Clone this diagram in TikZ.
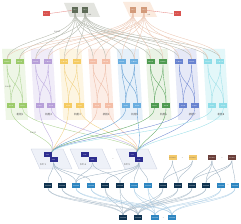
\documentclass[tikz,border=0pt]{standalone}
\usepackage{fontspec}
\newfontfamily\cjk{Noto Sans CJK SC}
\pgfdeclarelayer{bgA}
\pgfdeclarelayer{bgB}
\pgfsetlayers{bgA,bgB,main}
\definecolor{cAbox}{HTML}{9CCB6A}\definecolor{cAbg}{HTML}{EEF6E6}\definecolor{cAln}{HTML}{A9D18E}
\definecolor{cBbox}{HTML}{B79FD9}\definecolor{cBbg}{HTML}{F0ECF8}\definecolor{cBln}{HTML}{BBA8DF}
\definecolor{cCbox}{HTML}{F5CB62}\definecolor{cCbg}{HTML}{FDF5E2}\definecolor{cCln}{HTML}{F1D07E}
\definecolor{cDbox}{HTML}{F4BDA6}\definecolor{cDbg}{HTML}{FCEDE6}\definecolor{cDln}{HTML}{EDBBA5}
\definecolor{cEbox}{HTML}{6AAEE0}\definecolor{cEbg}{HTML}{E6F0F9}\definecolor{cEln}{HTML}{5E9CD2}
\definecolor{cFbox}{HTML}{4E9A50}\definecolor{cFbg}{HTML}{EAF3E5}\definecolor{cFln}{HTML}{5FA862}
\definecolor{cGbox}{HTML}{6883D0}\definecolor{cGbg}{HTML}{E6E9F7}\definecolor{cGln}{HTML}{6F88D2}
\definecolor{cHbox}{HTML}{8EDDE8}\definecolor{cHbg}{HTML}{E3F7F9}\definecolor{cHln}{HTML}{9ADFE8}
\definecolor{spgray}{HTML}{5E6B57}\definecolor{spgraybg}{HTML}{E3E4DF}\definecolor{spgrayln}{HTML}{B3B7AC}
\definecolor{sporg}{HTML}{D29A7A}\definecolor{sporgbg}{HTML}{FBEBDF}\definecolor{sporgln}{HTML}{EDC8B4}
\definecolor{redbox}{HTML}{D9534F}\definecolor{redln}{HTML}{E88C88}
\definecolor{subox}{HTML}{2E2E8F}\definecolor{subg}{HTML}{EEF1F8}\definecolor{suedge}{HTML}{C9CFE0}
\definecolor{ybox}{HTML}{F3C96A}\definecolor{brbox}{HTML}{6B3F3A}
\definecolor{dkbox}{HTML}{0F3350}\definecolor{ltbox}{HTML}{2E86C1}
\definecolor{lowln}{HTML}{9FB3C3}
\begin{document}
\begin{tikzpicture}[x=1pt,y=-1pt,
  box/.style={draw=none, minimum width=8pt, minimum height=5pt, inner sep=0pt,
    font=\fontsize{1.5}{1.8}\selectfont, text=white},
  lnk/.style={line width=0.35pt},
  lbl/.style={font=\fontsize{2.6}{3}\selectfont, text=black!70, inner sep=0pt},
  dots/.style={font=\fontsize{3}{3}\selectfont, text=black!60, inner sep=0pt},
]
\useasboundingbox (0,0) rectangle (241,224);
\begin{pgfonlayer}{bgA}
\fill[white] (0,0) rectangle (241,224);
\end{pgfonlayer}

% ---------- top spines ----------
\begin{pgfonlayer}{bgA}
\fill[spgraybg] (64,3) -- (94,3) -- (100,17) -- (70,17) -- cycle;
\fill[sporgbg] (123,2) -- (150,2) -- (157,17) -- (130,17) -- cycle;
\end{pgfonlayer}
\node[box,fill=redbox,minimum width=7pt] (redL) at (46,14) {Core};
\node[box,fill=redbox,minimum width=7pt] (redR) at (177,14) {Core};
\node[box,fill=spgray,minimum width=6pt,minimum height=6pt] (spL1) at (75,10) {SP1};
\node[box,fill=spgray,minimum width=6pt,minimum height=6pt] (spL2) at (85,10) {SP2};
\node[box,fill=sporg,minimum width=6pt,minimum height=6pt] (spR1) at (133,10) {SP1};
\node[box,fill=sporg,minimum width=6pt,minimum height=6pt] (spR2) at (144,10) {SP2};
\node[lbl,font=\fontsize{1.8}{2}\selectfont] (tagL) at (90,14.5) {x4};
\node[lbl,font=\fontsize{1.8}{2}\selectfont] (tagR) at (149,14.5) {x4};
\begin{pgfonlayer}{bgB}
\draw[lnk,redln] (redL) -- (spL1);
\draw[lnk,redln] (redR) -- (spR2);
\end{pgfonlayer}

% ---------- rack columns ----------
\foreach \c/\k/\n in {0/A/1,1/B/2,2/C/3,3/D/4,4/E/5,5/F/6,6/G/7,7/H/8}{
  \pgfmathsetmacro{\dx}{28.7*\c}
  \begin{pgfonlayer}{bgA}
  \fill[c\k bg] ({2+\dx},49) -- ({24+\dx},49) -- ({28+\dx},120) -- ({6+\dx},120) -- cycle;
  \end{pgfonlayer}
  \node[box,fill=c\k box] (ta\c) at ({7+\dx},62) {LEAF};
  \node[box,fill=c\k box] (tb\c) at ({19.5+\dx},62) {LEAF};
  \node[box,fill=c\k box] (ba\c) at ({11+\dx},105.5) {TOR};
  \node[box,fill=c\k box] (bb\c) at ({22.5+\dx},105.5) {TOR};
  \node[lbl,font=\cjk\fontsize{2.6}{3}\selectfont] (lab\c) at ({20+\dx},115) {机柜\n};
  \begin{pgfonlayer}{bgB}
  \draw[lnk,c\k ln] (ta\c.south) .. controls +(0,20) and +(0,-20) .. (ba\c.north);
  \draw[lnk,c\k ln] (ta\c.south) .. controls +(0,20) and +(0,-20) .. (bb\c.north);
  \draw[lnk,c\k ln] (tb\c.south) .. controls +(0,20) and +(0,-20) .. (ba\c.north);
  \draw[lnk,c\k ln] (tb\c.south) .. controls +(0,20) and +(0,-20) .. (bb\c.north);
  \draw[lnk,spgrayln] (spL1.south) .. controls +(0,25) and +(0,-20) .. (ta\c.north);
  \draw[lnk,spgrayln] (spL2.south) .. controls +(0,25) and +(0,-20) .. (tb\c.north);
  \draw[lnk,sporgln] (spR1.south) .. controls +(0,25) and +(0,-20) .. (ta\c.north);
  \draw[lnk,sporgln] (spR2.south) .. controls +(0,25) and +(0,-20) .. (tb\c.north);
  \end{pgfonlayer}
}
\node[lbl,font=\fontsize{2}{2}\selectfont] (nL1) at (57,32) {100G};
\node[lbl,font=\fontsize{2}{2}\selectfont] (nL2) at (8,87) {100G};
\node[lbl,font=\fontsize{2}{2}\selectfont] (nL3) at (33,133) {100G};

% ---------- SU pods ----------
\begin{pgfonlayer}{bgA}
\filldraw[fill=subg,draw=suedge,line width=0.3pt] (31,149) -- (63,149) -- (72,169) -- (40,169) -- cycle;
\filldraw[fill=subg,draw=suedge,line width=0.3pt] (70,149) -- (102,149) -- (111,169) -- (79,169) -- cycle;
\filldraw[fill=subg,draw=suedge,line width=0.3pt] (116,149) -- (148,149) -- (157,169) -- (125,169) -- cycle;
\end{pgfonlayer}
\node[box,fill=subox] (su1a) at (47.5,155) {SW};
\node[box,fill=subox] (su1b) at (53.5,160) {SW};
\node[box,fill=subox] (su4a) at (85,155) {SW};
\node[box,fill=subox] (su4b) at (92.5,160) {SW};
\node[box,fill=subox] (su5a) at (132.5,155) {SW};
\node[box,fill=subox] (su5b) at (139,160) {SW};
\node[lbl] (su1l) at (43,165) {SU1};
\node[lbl] (su4l) at (83,165) {SU4};
\node[lbl] (su5l) at (127,165) {SU5};
\node[dots] (dm1) at (113,159) {-};

\node[box,fill=ybox,text=black!60] (y1) at (172.5,158) {MGMT};
\node[box,fill=ybox,text=black!60] (y2) at (192.5,158) {MGMT};
\node[dots] (dm2) at (182.5,158) {-};
\node[box,fill=brbox] (r1) at (212,158) {STOR};
\node[box,fill=brbox] (r2) at (232,158) {STOR};
\node[dots] (dm3) at (222,158) {-};

\begin{pgfonlayer}{bgB}
\foreach \c/\k in {0/A,1/B,2/C,3/D,4/E,5/F,6/G,7/H}{
  \draw[lnk,c\k ln] (ba\c.south) .. controls +(0,22) and +(6,-14) .. (su1a.north east);
  \draw[lnk,c\k ln] (bb\c.south) .. controls +(0,22) and +(6,-14) .. (su5a.north east);
}
\end{pgfonlayer}

% ---------- access row ----------
\foreach \i/\x/\t in {1/48/dk,2/62/dk,3/76/lt,4/91/lt,5/105/dk,6/120/dk,7/134/lt,8/148/lt,
                      9/163/dk,10/178/dk,11/192/dk,12/206/dk,13/221/lt,14/235/lt}{
  \node[box,fill=\t box] (bt\i) at (\x,185.5) {NODE};
}
\node[dots] (dm4) at (228,185.5) {-};
\node[box,fill=dkbox] (bb1) at (123,218) {NODE};
\node[box,fill=dkbox] (bb2) at (138,218) {NODE};
\node[box,fill=ltbox] (bb3) at (155,218) {NODE};
\node[box,fill=ltbox] (bb4) at (172,218) {NODE};
\node[dots] (dm5) at (163.5,218) {-};

\begin{pgfonlayer}{bgB}
\foreach \s/\t in {su1b/bt1,su1b/bt2,su1b/bt3,su1b/bt4,su4b/bt3,su4b/bt6,
                   su5b/bt5,su5b/bt6,su5b/bt7,su5b/bt8,su5b/bt3,
                   y1/bt9,y1/bt10,y2/bt9,y2/bt10,
                   r1/bt11,r1/bt12,r1/bt13,r2/bt11,r2/bt12,r2/bt14}{
  \draw[lnk,lowln] (\s.south) .. controls +(0,10) and +(0,-10) .. (\t.north);
}
\foreach \i in {1,2,5,6,9,10,11,12}{
  \draw[lnk,lowln,opacity=0.8] (bt\i.south) .. controls +(0,14) and +(0,-12) .. (bb1.north);
  \draw[lnk,lowln,opacity=0.8] (bt\i.south) .. controls +(0,14) and +(0,-12) .. (bb2.north);
}
\foreach \i in {3,4,7,8,13,14}{
  \draw[lnk,ltbox!45,opacity=0.8] (bt\i.south) .. controls +(0,14) and +(0,-12) .. (bb3.north);
  \draw[lnk,ltbox!45,opacity=0.8] (bt\i.south) .. controls +(0,14) and +(0,-12) .. (bb4.north);
}
\end{pgfonlayer}
\end{tikzpicture}
\end{document}
